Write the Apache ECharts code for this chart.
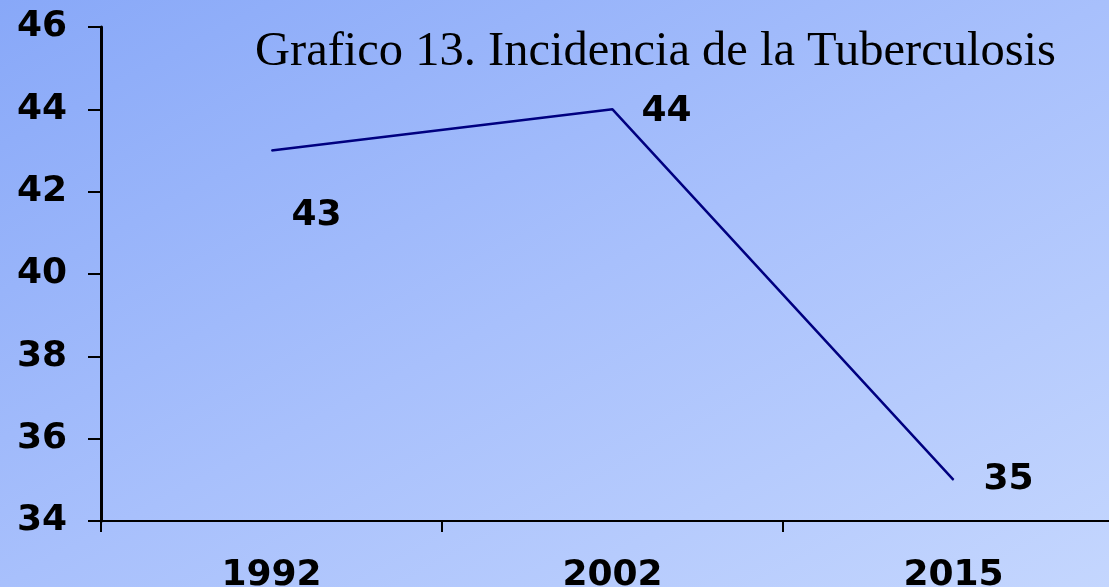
<!DOCTYPE html>
<html>
<head>
<meta charset="utf-8">
<script src="https://cdn.jsdelivr.net/npm/echarts@6/dist/echarts.min.js"></script>
<style>
  html, body { margin: 0; padding: 0; }
  #c1 { width: 1109px; height: 587px; }
</style>
</head>
<body>
<div id="c1"></div>
<script>
var years = ['1992', '2002', '2015'];
var incidencia = [43, 44, 35];
// desplazamiento de cada etiqueta respecto a su punto
var labelOffsets = [[45, 65], [54, 2], [55, 0]];

var ec_c1 = echarts.init(document.getElementById('c1'));

var numFont = {
    fontFamily: 'DejaVu Sans',
    fontWeight: 'bold',
    fontSize: 36,
    color: '#000'
};

var ec_c1_option = {
    // degradado diagonal (esquina sup. izq. mas oscura)
    backgroundColor: {
        type: 'linear', x: 0, y: 0, x2: 485, y2: 917, global: true,
        colorStops: [
            { offset: 0, color: '#88a8f8' },
            { offset: 0.5, color: '#a8c0fc' },
            { offset: 1, color: '#c4d6fe' }
        ]
    },
    title: {
        text: 'Grafico 13. Incidencia de la Tuberculosis',
        left: 255,
        top: 28,
        padding: 0,
        textStyle: {
            fontFamily: 'Liberation Serif',
            fontWeight: 'normal',
            fontSize: 48.5,
            color: '#000'
        }
    },
    grid: {
        left: 101,
        top: 27,
        bottom: 66,
        width: 1023,
        containLabel: false,
        outerBoundsMode: 'none'
    },
    xAxis: {
        type: 'category',
        data: years,
        boundaryGap: true,
        axisLine: { lineStyle: { color: '#000', width: 2 } },
        axisTick: { show: true, length: 11, lineStyle: { color: '#000', width: 2 } },
        axisLabel: Object.assign({ margin: 37 }, numFont),
        splitLine: { show: false }
    },
    yAxis: {
        type: 'value',
        min: 34,
        max: 46,
        interval: 2,
        axisLine: { show: true, lineStyle: { color: '#000', width: 3 } },
        axisTick: { show: true, length: 13, lineStyle: { color: '#000', width: 2 } },
        axisLabel: Object.assign({ margin: 34 }, numFont),
        splitLine: { show: false }
    },
    series: [{
        name: 'Incidencia',
        type: 'line',
        symbol: 'circle',
        symbolSize: 1,
        itemStyle: { color: '#000080' },
        lineStyle: { color: '#000080', width: 2.5 },
        label: Object.assign({ show: true, position: 'inside' }, numFont),
        data: incidencia.map(function (v, i) {
            return { value: v, label: { offset: labelOffsets[i] } };
        }),
        animation: false
    }]
};

ec_c1.setOption(ec_c1_option);
</script>
</body>
</html>
